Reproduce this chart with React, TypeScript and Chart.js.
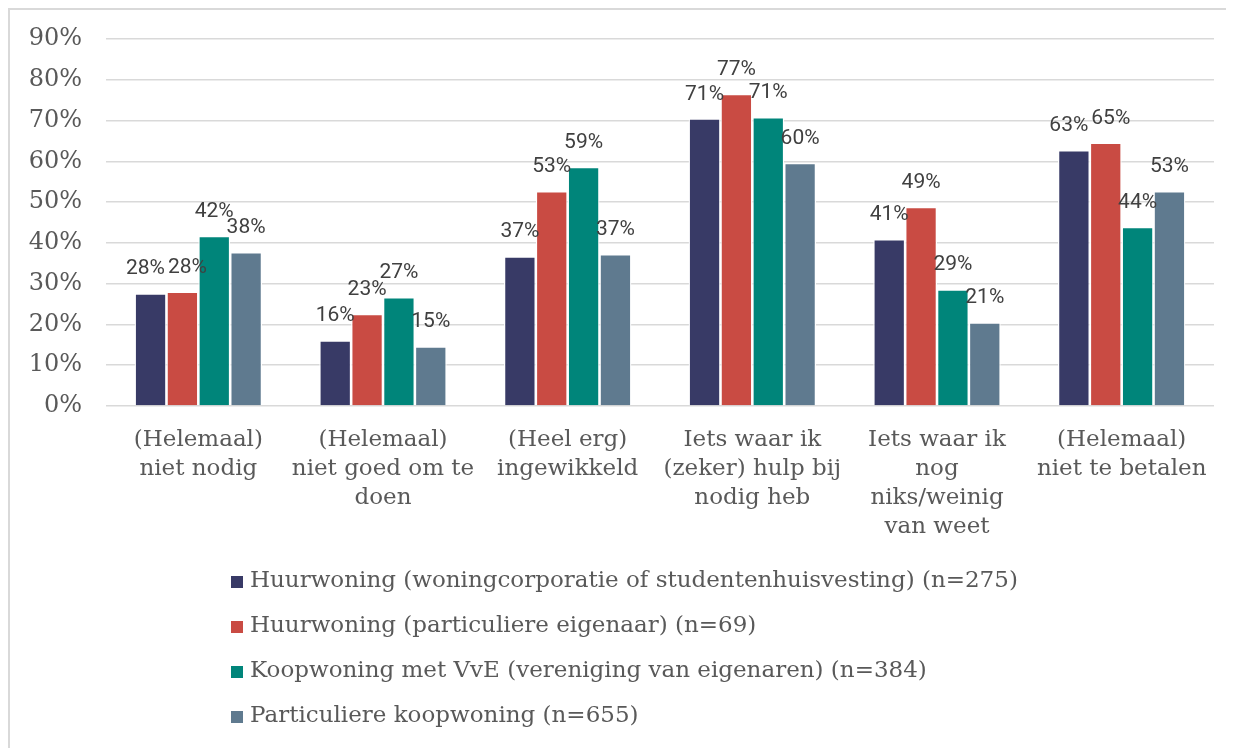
import React, { useEffect, useRef } from 'react';
import { Chart, registerables } from 'chart.js';

Chart.register(...registerables);

const categories: string[][] = [
  ['(Helemaal)', 'niet nodig'],
  ['(Helemaal)', 'niet goed om te', 'doen'],
  ['(Heel erg)', 'ingewikkeld'],
  ['Iets waar ik', '(zeker) hulp bij', 'nodig heb'],
  ['Iets waar ik', 'nog', 'niks/weinig', 'van weet'],
  ['(Helemaal)', 'niet te betalen'],
];

const seriesNames = [
  'Huurwoning (woningcorporatie of studentenhuisvesting) (n=275)',
  'Huurwoning (particuliere eigenaar) (n=69)',
  'Koopwoning met VvE (vereniging van eigenaren) (n=384)',
  'Particuliere koopwoning (n=655)',
];

const seriesColors = ['#383a66', '#c94b43', '#00857a', '#5f7a8f'];

const huurCorporatie = [27.6, 16.1, 36.7, 70.5, 40.9, 62.7];
const huurParticulier = [28.0, 22.6, 52.7, 76.5, 48.8, 64.6];
const koopVvE = [41.7, 26.7, 58.6, 70.8, 28.6, 43.9];
const koopParticulier = [37.7, 14.6, 37.2, 59.6, 20.5, 52.7];

const yMax = 90;
const yStep = 10;

const serif = "'DejaVu Serif', serif";
const textGray = '#595959';

const valueLabelPlugin = {
  id: 'valueLabels',
  afterDatasetsDraw(chart: any) {
    const ctx = chart.ctx;
    ctx.save();
    ctx.font = '21px Roboto';
    ctx.fillStyle = '#404040';
    ctx.textAlign = 'center';
    ctx.textBaseline = 'alphabetic';
    const n = chart.data.labels.length;
    for (let i = 0; i < n; i++) {
      const items: any[] = [];
      chart.data.datasets.forEach((ds: any, d: number) => {
        const el = chart.getDatasetMeta(d).data[i];
        const text = Math.round(ds.data[i]) + '%';
        const w = ctx.measureText(text).width;
        items.push({ x: el.x, base: el.y - 19, w, text });
      });
      for (let k = 1; k < items.length; k++) {
        const a = items[k - 1];
        const b = items[k];
        const vOverlap = Math.abs(a.base - b.base) < 15;
        const hOverlap = a.x + a.w / 2 + 3 - (b.x - b.w / 2);
        if (vOverlap && hOverlap > 0) {
          a.x -= hOverlap / 2;
          b.x += hOverlap / 2;
        }
      }
      items.forEach((it) => ctx.fillText(it.text, it.x, it.base));
    }
    ctx.restore();
  },
};

const legendPlugin = {
  id: 'vLegend',
  afterDraw(chart: any) {
    const ctx = chart.ctx;
    const bottom = chart.chartArea.bottom;
    ctx.save();
    ctx.font = '23px ' + serif;
    ctx.textBaseline = 'middle';
    ctx.textAlign = 'left';
    chart.data.datasets.forEach((ds: any, d: number) => {
      const y = bottom + 175 + d * 45;
      ctx.fillStyle = ds.backgroundColor;
      ctx.fillRect(221, y - 5, 12, 12);
      ctx.fillStyle = textGray;
      ctx.fillText(ds.label, 240, y);
    });
    ctx.restore();
  },
};

export default function App() {
  const ref = useRef<HTMLCanvasElement | null>(null);

  useEffect(() => {
    document.body.style.overflow = 'hidden';
    if (!ref.current) return;
    const seriesData = [huurCorporatie, huurParticulier, koopVvE, koopParticulier];
    const chart = new Chart(ref.current, {
      type: 'bar',
      data: {
        labels: categories,
        datasets: seriesData.map((data, i) => ({
          label: seriesNames[i],
          data,
          backgroundColor: seriesColors[i],
          borderColor: '#ffffff',
          borderWidth: 1.3,
          borderSkipped: 'bottom',
          barPercentage: 1,
          categoryPercentage: 0.69,
        })),
      },
      options: {
        responsive: false,
        animation: false,
        layout: { padding: { top: 29, right: 20, left: 0, bottom: 0 } },
        plugins: {
          legend: { display: false },
          tooltip: { enabled: false },
        },
        scales: {
          x: {
            grid: { display: false },
            border: { display: false },
            ticks: {
              color: textGray,
              font: { family: serif, size: 23, lineHeight: 1.25 },
              maxRotation: 0,
              autoSkip: false,
              padding: 12,
            },
            afterFit: (s: any) => {
              s.height = 342;
            },
          },
          y: {
            min: 0,
            max: yMax,
            grid: { color: '#d9d9d9', lineWidth: 1.5, drawTicks: false },
            border: { display: false },
            ticks: {
              stepSize: yStep,
              color: textGray,
              font: { family: serif, size: 24 },
              padding: 24,
              callback: (v: any) => v + '%',
            },
            afterFit: (s: any) => {
              s.width = 96;
              s.paddingTop = 0;
              s.paddingBottom = 0;
            },
          },
        },
      },
      plugins: [valueLabelPlugin, legendPlugin],
    } as any);
    return () => chart.destroy();
  }, []);

  return (
    <div
      style={{
        width: 1226,
        height: 740,
        boxSizing: 'border-box',
        borderTop: '2px solid #d9d9d9',
        borderLeft: '2px solid #d9d9d9',
        background: '#fff',
      }}
    >
      <canvas ref={ref} width={1224} height={738} style={{ display: 'block' }} />
    </div>
  );
}
